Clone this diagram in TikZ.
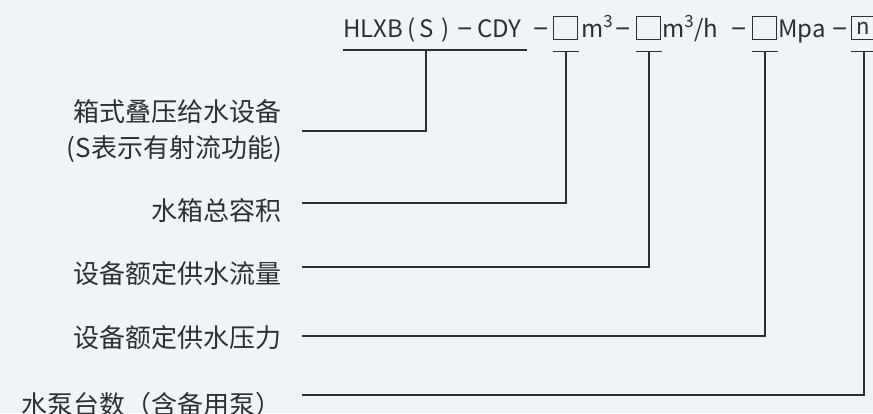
\documentclass[tikz,border=0pt]{standalone}
\usepackage{fontspec}
\setmainfont{Noto Sans CJK SC}
\newfontfamily\latinfont{Liberation Sans}
\definecolor{bgc}{RGB}{238,244,247}
\definecolor{ink}{RGB}{45,48,50}
\begin{document}
\begin{tikzpicture}[x=1pt,y=-1pt,
  code/.style={anchor=base west,inner sep=0pt,text=ink,font=\fontsize{24}{28}\selectfont},
  dashsym/.style={anchor=base west,inner sep=0pt,text=ink,font=\latinfont\fontsize{26}{28}\selectfont},
  slot/.style={draw=ink,line width=1.4pt,minimum width=24pt,minimum height=23pt,inner sep=0pt,anchor=north west,text=ink,font=\fontsize{22}{24}\selectfont},
  lbl/.style={anchor=east,inner sep=0pt,text=ink,font=\fontsize{26}{36}\selectfont,align=right},
  conn/.style={draw=ink,line width=1.8pt}]
\fill[bgc] (0,0) rectangle (873,413);
\useasboundingbox (0,0) rectangle (873,413);
% top code
\node[code] (c1) at (343,37) {HLXB};
\node[code] (c2) at (407,37) {(};
\node[code] (c3) at (419,37) {S};
\node[code] (c4) at (441,37) {)};
\node[dashsym] (c5) at (457,37) {−};
\node[code] (c6) at (477,37) {CDY};
\node[dashsym] (c7) at (533,37) {−};
\node[slot] (b1) at (553,16) {};
\node[code] (c8) at (581,37) {m\textsuperscript{3}};
\node[dashsym] (c9) at (615,37) {−};
\node[slot] (b2) at (636,16) {};
\node[code] (c10) at (662,37) {m\textsuperscript{3}/h};
\node[dashsym] (c11) at (731,37) {−};
\node[slot] (b3) at (752,16) {};
\node[code] (c12) at (778,37) {Mpa};
\node[dashsym] (c13) at (832,37) {−};
\node[slot] (b4) at (851,16) {n};
% labels
\node[lbl] (l1) at (282,131) {箱式叠压给水设备\\(S表示有射流功能)};
\node[lbl] (l2) at (282,211) {水箱总容积};
\node[lbl] (l3) at (282,274) {设备额定供水流量};
\node[lbl] (l4) at (282,338) {设备额定供水压力};
\node[lbl] (l5) at (282,405) {水泵台数（含备用泵）};
% tick coordinates
\coordinate (t0) at (426,50);
\coordinate (t1) at ([yshift=-11]b1.south);
\coordinate (t2) at ([yshift=-11]b2.south);
\coordinate (t3) at ([yshift=-11]b3.south);
\coordinate (t4) at ([yshift=-11]b4.south);
\coordinate (s1) at (302,131);
\coordinate (s2) at (302,203);
\coordinate (s3) at (302,267);
\coordinate (s4) at (302,336);
\coordinate (s5) at (302,395);
% bracket under HLXB(S)-CDY
\draw[conn] (343,50) -- (527,50);
\draw[conn] (s1) -| (t0);
\foreach \i in {1,2,3,4}{
  \draw[conn] ([xshift=-13]t\i) -- ([xshift=13]t\i);
}
\draw[conn] (s2) -| (t1);
\draw[conn] (s3) -| (t2);
\draw[conn] (s4) -| (t3);
\draw[conn] (s5) -| (t4);
\end{tikzpicture}
\end{document}
